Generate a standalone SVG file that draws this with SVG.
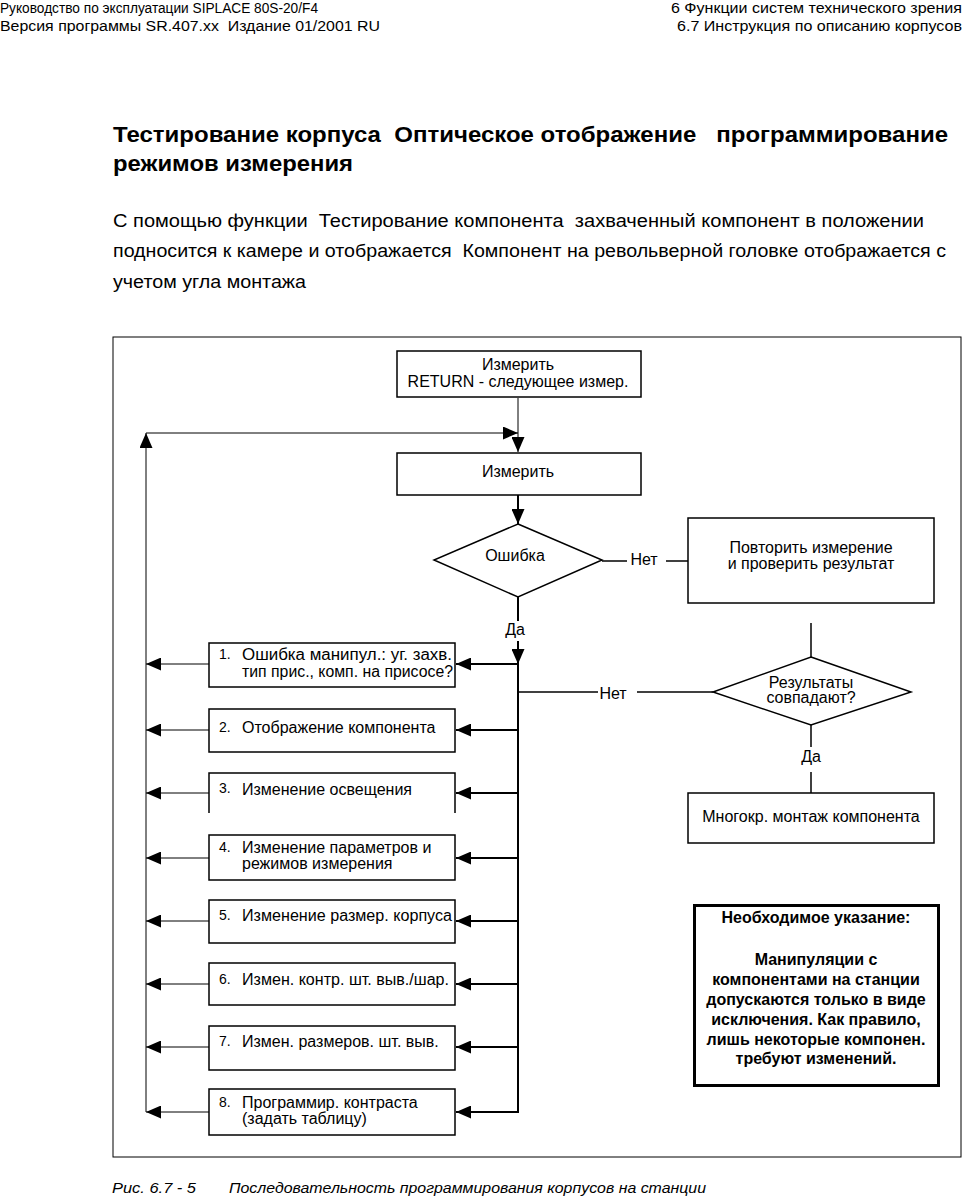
<svg xmlns="http://www.w3.org/2000/svg" width="964" height="1196" viewBox="0 0 964 1196">
<style>
text{font-family:"Liberation Sans",Arial,sans-serif;fill:#000}
.hd{font-size:14px}
.ti{font-size:22px;font-weight:bold}
.pa{font-size:17.5px}
.cap{font-size:14px;font-style:italic}
.bt{font-size:16px}
.num{font-size:14px}
.c{text-anchor:middle}
.nt{font-size:16px;font-weight:bold;text-anchor:middle}
.box{fill:#fff;stroke:#000;stroke-width:1.5}
.thin{stroke:#000;stroke-width:1;fill:none}
.mid{stroke:#000;stroke-width:1.5;fill:none}
.thk{stroke:#000;stroke-width:2;fill:none}
</style>
<defs>
<marker id="ah" viewBox="0 0 15 13" refX="15" refY="6.5" markerWidth="15" markerHeight="13" markerUnits="userSpaceOnUse" orient="auto"><path d="M0,0 L15,6.5 L0,13 z" fill="#000"/></marker>
</defs>
<rect width="964" height="1196" fill="#fff"/>
<g id="header">
<text class="hd" x="0" y="13" textLength="318" lengthAdjust="spacingAndGlyphs">Руководство по эксплуатации SIPLACE 80S-20/F4</text>
<text class="hd" x="0" y="31" textLength="380" lengthAdjust="spacingAndGlyphs" xml:space="preserve">Версия программы SR.407.xx  Издание 01/2001 RU</text>
<text class="hd" x="671" y="13" textLength="291" lengthAdjust="spacingAndGlyphs">6 Функции систем технического зрения</text>
<text class="hd" x="677" y="31" textLength="285" lengthAdjust="spacingAndGlyphs">6.7 Инструкция по описанию корпусов</text>
</g>
<g id="title">
<text class="ti" x="113" y="142" textLength="835" lengthAdjust="spacingAndGlyphs" xml:space="preserve">Тестирование корпуса  Оптическое отображение   программирование</text>
<text class="ti" x="113" y="171" textLength="240" lengthAdjust="spacingAndGlyphs">режимов измерения</text>
</g>
<g id="paragraph">
<text class="pa" x="113" y="227" textLength="811" lengthAdjust="spacingAndGlyphs" xml:space="preserve">С помощью функции  Тестирование компонента  захваченный компонент в положении</text>
<text class="pa" x="113" y="257" textLength="833" lengthAdjust="spacingAndGlyphs" xml:space="preserve">подносится к камере и отображается  Компонент на револьверной головке отображается с</text>
<text class="pa" x="113" y="288" textLength="193" lengthAdjust="spacingAndGlyphs">учетом угла монтажа</text>
</g>
<rect id="frame" x="113" y="337" width="848" height="820" fill="none" stroke="#000" stroke-width="1"/>
<g id="connectors">
<line class="thin" x1="518" y1="398" x2="518" y2="452" marker-end="url(#ah)"/>
<line class="thin" x1="146" y1="1112" x2="146" y2="433" marker-end="url(#ah)"/>
<line class="thin" x1="146" y1="433" x2="518" y2="433" marker-end="url(#ah)"/>
<line class="thk" x1="518" y1="495" x2="518" y2="524" marker-end="url(#ah)"/>
<line class="thk" x1="518" y1="597" x2="518" y2="621"/>
<line class="thk" x1="518" y1="641" x2="518" y2="664" marker-end="url(#ah)"/>
<line class="thk" x1="518" y1="664" x2="518" y2="1113"/>
<line class="thk" x1="518" y1="664" x2="456" y2="664" marker-end="url(#ah)"/>
<line class="thk" x1="518" y1="730" x2="456" y2="730" marker-end="url(#ah)"/>
<line class="thk" x1="518" y1="793" x2="456" y2="793" marker-end="url(#ah)"/>
<line class="thk" x1="518" y1="858" x2="456" y2="858" marker-end="url(#ah)"/>
<line class="thk" x1="518" y1="921" x2="456" y2="921" marker-end="url(#ah)"/>
<line class="thk" x1="518" y1="984" x2="456" y2="984" marker-end="url(#ah)"/>
<line class="thk" x1="518" y1="1047" x2="456" y2="1047" marker-end="url(#ah)"/>
<line class="thk" x1="519" y1="1112" x2="456" y2="1112" marker-end="url(#ah)"/>
<line class="thin" x1="209" y1="664" x2="146" y2="664" marker-end="url(#ah)"/>
<line class="thin" x1="209" y1="730" x2="146" y2="730" marker-end="url(#ah)"/>
<line class="thin" x1="209" y1="793" x2="146" y2="793" marker-end="url(#ah)"/>
<line class="thin" x1="209" y1="858" x2="146" y2="858" marker-end="url(#ah)"/>
<line class="thin" x1="209" y1="921" x2="146" y2="921" marker-end="url(#ah)"/>
<line class="thin" x1="209" y1="984" x2="146" y2="984" marker-end="url(#ah)"/>
<line class="thin" x1="209" y1="1047" x2="146" y2="1047" marker-end="url(#ah)"/>
<line class="thin" x1="209" y1="1112" x2="146" y2="1112" marker-end="url(#ah)"/>
<line class="mid" x1="602" y1="561" x2="627" y2="561"/>
<line class="mid" x1="666" y1="561" x2="688" y2="561"/>
<line class="mid" x1="811" y1="623" x2="811" y2="657"/>
<line class="mid" x1="811" y1="725" x2="811" y2="747"/>
<line class="mid" x1="811" y1="772" x2="811" y2="793"/>
<line class="mid" x1="713" y1="692" x2="637" y2="692"/>
<line class="mid" x1="598" y1="692" x2="518" y2="692"/>
<text class="bt c" x="515" y="635">Да</text>
<text class="bt c" x="644" y="565">Нет</text>
<text class="bt c" x="613" y="699">Нет</text>
<text class="bt c" x="811" y="762">Да</text>
</g>
<g id="n-measure-return">
<rect class="box" x="397" y="351" width="244" height="46"/>
<text class="bt c" x="518" y="370">Измерить</text>
<text class="bt c" x="518" y="387">RETURN - следующее измер.</text>
</g>
<g id="n-measure">
<rect class="box" x="397" y="453" width="244" height="42"/>
<text class="bt c" x="518" y="477">Измерить</text>
</g>
<g id="n-error">
<polygon class="box" points="518,524 602,560 518,597 434,560"/>
<text class="bt c" x="515" y="561">Ошибка</text>
</g>
<g id="n-repeat">
<rect class="box" x="688" y="518" width="246" height="85"/>
<text class="bt c" x="811" y="553">Повторить измерение</text>
<text class="bt c" x="811" y="569">и проверить результат</text>
</g>
<g id="n-match">
<polygon class="box" points="811,657 911,692 811,725 713,692"/>
<text class="bt c" x="811" y="688">Результаты</text>
<text class="bt c" x="811" y="703">совпадают?</text>
</g>
<g id="n-multi">
<rect class="box" x="688" y="793" width="246" height="50"/>
<text class="bt c" x="811" y="822">Многокр. монтаж компонента</text>
</g>
<g id="n-1">
<rect class="box" x="209" y="643" width="246" height="44"/>
<text class="num" x="219" y="659">1.</text>
<text class="bt" x="242" y="660" textLength="210" lengthAdjust="spacingAndGlyphs">Ошибка манипул.: уг. захв.</text>
<text class="bt" x="242" y="677" textLength="211" lengthAdjust="spacingAndGlyphs">тип прис., комп. на присосе?</text>
</g>
<g id="n-2">
<rect class="box" x="209" y="709" width="246" height="43"/>
<text class="num" x="219" y="732">2.</text>
<text class="bt" x="242" y="733">Отображение компонента</text>
</g>
<g id="n-3">
<path class="box" d="M209,813 V773 H455 V813"/>
<text class="num" x="219" y="793">3.</text>
<text class="bt" x="242" y="795">Изменение освещения</text>
</g>
<g id="n-4">
<rect class="box" x="209" y="835" width="246" height="45"/>
<text class="num" x="219" y="852">4.</text>
<text class="bt" x="242" y="853">Изменение параметров и</text>
<text class="bt" x="242" y="869">режимов измерения</text>
</g>
<g id="n-5">
<rect class="box" x="209" y="900" width="246" height="43"/>
<text class="num" x="219" y="920">5.</text>
<text class="bt" x="242" y="921" textLength="210" lengthAdjust="spacingAndGlyphs">Изменение размер. корпуса</text>
</g>
<g id="n-6">
<rect class="box" x="209" y="963" width="246" height="42"/>
<text class="num" x="219" y="984">6.</text>
<text class="bt" x="242" y="985" textLength="207" lengthAdjust="spacingAndGlyphs">Измен. контр. шт. выв./шар.</text>
</g>
<g id="n-7">
<rect class="box" x="209" y="1026" width="246" height="44"/>
<text class="num" x="219" y="1046">7.</text>
<text class="bt" x="242" y="1047">Измен. размеров. шт. выв.</text>
</g>
<g id="n-8">
<rect class="box" x="209" y="1089" width="246" height="46"/>
<text class="num" x="219" y="1107">8.</text>
<text class="bt" x="242" y="1108">Программир. контраста</text>
<text class="bt" x="242" y="1124">(задать таблицу)</text>
</g>
<g id="n-note">
<rect x="694.5" y="905.5" width="244" height="180" fill="#fff" stroke="#000" stroke-width="3"/>
<text class="nt" x="816" y="923">Необходимое указание:</text>
<text class="nt" x="816" y="965">Манипуляции с</text>
<text class="nt" x="816" y="985">компонентами на станции</text>
<text class="nt" x="816" y="1005">допускаются только в виде</text>
<text class="nt" x="816" y="1025">исключения. Как правило,</text>
<text class="nt" x="816" y="1045">лишь некоторые компонен.</text>
<text class="nt" x="816" y="1064">требуют изменений.</text>
</g>
<g id="caption">
<text class="cap" x="112" y="1193" textLength="84" lengthAdjust="spacingAndGlyphs">Рис. 6.7 - 5</text>
<text class="cap" x="229" y="1193" textLength="477" lengthAdjust="spacingAndGlyphs">Последовательность программирования корпусов на станции</text>
</g>
</svg>
